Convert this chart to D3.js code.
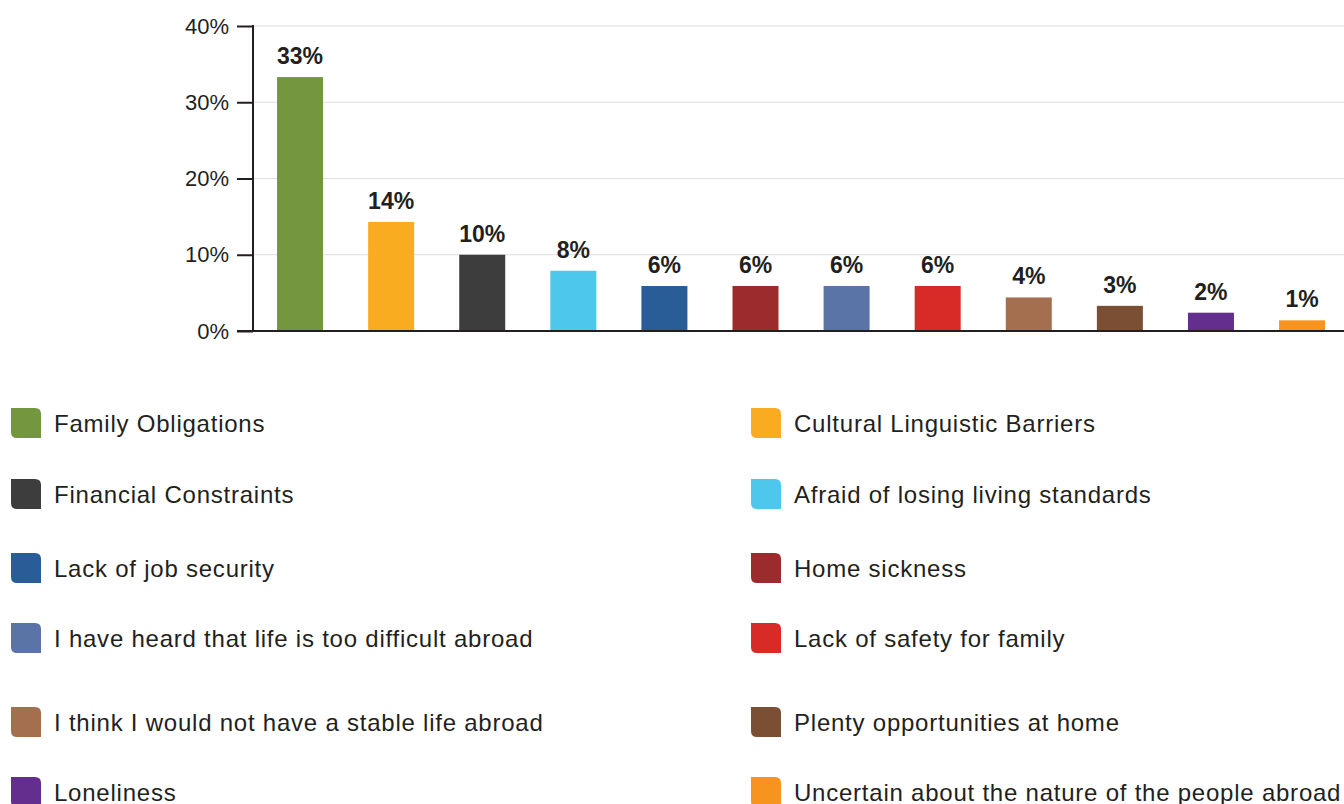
<!DOCTYPE html>
<html>
<head>
<meta charset="utf-8">
<script src="https://cdnjs.cloudflare.com/ajax/libs/d3/7.8.5/d3.min.js"></script>
<style>
  body { margin: 0; background: #fff; }
  svg { display: block; font-family: "Liberation Sans", Arial, sans-serif; }
</style>
</head>
<body>
<script>
// reasons for not going abroad
var categories = [
  "Family Obligations",
  "Cultural Linguistic Barriers",
  "Financial Constraints",
  "Afraid of losing living standards",
  "Lack of job security",
  "Home sickness",
  "I have heard that life is too difficult abroad",
  "Lack of safety for family",
  "I think I would not have a stable life abroad",
  "Plenty opportunities at home",
  "Loneliness",
  "Uncertain about the nature of the people abroad"
];
var values = [33.3, 14.3, 10.0, 7.9, 5.9, 5.9, 5.9, 5.9, 4.4, 3.3, 2.4, 1.4];
var colors = ["#73963f", "#f9ac20", "#3d3d3d", "#4dc8ec", "#295d97", "#9b2b2c",
              "#5b74a8", "#d82a27", "#a46f4e", "#7a4f34", "#642e8e", "#f7941d"];
var yTicks = [0, 10, 20, 30, 40];

var width = 1344, height = 804;
var textColor = "#231f20";

var svg = d3.select("body").append("svg")
  .attr("width", width)
  .attr("height", height);

var axisX = 253;
var yScale = d3.scaleLinear()
  .domain([0, 40])
  .range([331, 26]);

var xScale = d3.scaleBand()
  .domain(categories)
  .range([254.5, 1347.6])
  .paddingInner(0.495)
  .paddingOuter(0.2475);

// grid lines
svg.append("g")
  .selectAll("line")
  .data(yTicks.filter(function(d) { return d > 0; }))
  .join("line")
  .attr("x1", axisX)
  .attr("x2", width)
  .attr("y1", function(d) { return yScale(d); })
  .attr("y2", function(d) { return yScale(d); })
  .attr("stroke", "#dddddd")
  .attr("stroke-width", 1);

// bars
svg.append("g")
  .selectAll("rect")
  .data(values)
  .join("rect")
  .attr("x", function(d, i) { return xScale(categories[i]); })
  .attr("width", xScale.bandwidth())
  .attr("y", function(d) { return yScale(d); })
  .attr("height", function(d) { return yScale(0) - yScale(d); })
  .attr("fill", function(d, i) { return colors[i]; });

// value labels
svg.append("g")
  .selectAll("text")
  .data(values)
  .join("text")
  .attr("x", function(d, i) { return xScale(categories[i]) + xScale.bandwidth() / 2; })
  .attr("y", function(d) { return yScale(d) - 13; })
  .attr("text-anchor", "middle")
  .attr("font-size", 23)
  .attr("font-weight", "bold")
  .attr("fill", textColor)
  .text(function(d) { return Math.round(d) + "%"; });

// y axis
var yAxis = d3.axisLeft(yScale)
  .tickValues(yTicks)
  .tickSize(16)
  .tickPadding(8)
  .tickFormat(function(d) { return d + "%"; });

var gy = svg.append("g")
  .attr("transform", "translate(" + axisX + ",0)")
  .call(yAxis);
gy.select(".domain").remove();
gy.selectAll(".tick line").attr("stroke", textColor).attr("stroke-width", 2);
gy.selectAll(".tick text")
  .attr("font-size", 22)
  .attr("fill", textColor)
  .attr("font-family", "\"Liberation Sans\", Arial, sans-serif");

svg.append("line")
  .attr("x1", axisX).attr("x2", axisX)
  .attr("y1", yScale(40) - 1).attr("y2", yScale(0) + 1)
  .attr("stroke", textColor).attr("stroke-width", 2);

// baseline
svg.append("line")
  .attr("x1", axisX - 16).attr("x2", width)
  .attr("y1", yScale(0)).attr("y2", yScale(0))
  .attr("stroke", textColor).attr("stroke-width", 2);

// legend, two columns
var rowY = [423, 494, 568, 638, 722, 792];
var colX = [11, 751];
var sw = 30, r = 6;

function swatchPath(x, y) {
  // top-right and bottom-left corners rounded
  return "M" + x + "," + y +
    "H" + (x + sw - r) + "Q" + (x + sw) + "," + y + " " + (x + sw) + "," + (y + r) +
    "V" + (y + sw) +
    "H" + (x + r) + "Q" + x + "," + (y + sw) + " " + x + "," + (y + sw - r) +
    "Z";
}

var legend = svg.append("g")
  .selectAll("g")
  .data(categories)
  .join("g")
  .attr("transform", function(d, i) {
    return "translate(" + colX[i % 2] + "," + rowY[Math.floor(i / 2)] + ")";
  });

legend.append("path")
  .attr("d", function() { return swatchPath(0, -sw / 2); })
  .attr("fill", function(d, i) { return colors[i]; });

legend.append("text")
  .attr("x", 43)
  .attr("y", 9)
  .attr("font-size", 24)
  .attr("letter-spacing", 0.77)
  .attr("fill", textColor)
  .text(function(d) { return d; });
</script>
</body>
</html>
